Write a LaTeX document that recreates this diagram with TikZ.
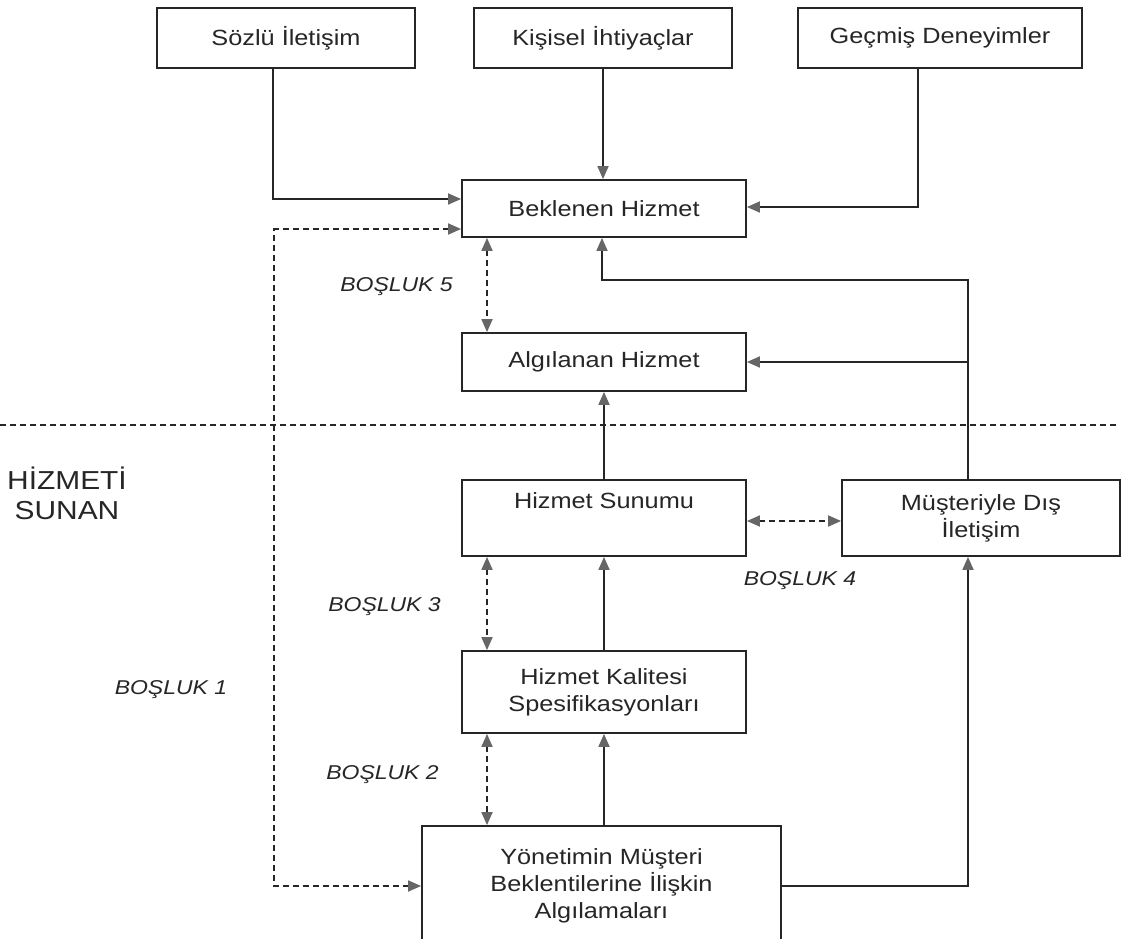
\documentclass[tikz,border=0pt]{standalone}
\usepackage{fontspec}
\setmainfont[FakeStretch=1.15]{Liberation Sans}
\usetikzlibrary{arrows.meta}

\begin{document}
\begin{tikzpicture}[x=1pt, y=-1pt, line width=1.8pt, black!85,
    box/.style={draw, inner sep=0pt, align=center, font=\fontsize{22}{27}\selectfont},
    tip/.tip={Triangle[length=13pt, width=11pt, color=black!60]},
    arr/.style={-tip},
    gap/.style={tip-tip, dash pattern=on 6pt off 4pt},
    gaplabel/.style={font=\fontsize{20}{24}\selectfont\itshape}]
  \useasboundingbox (0,0) rectangle (1122,939);
  \clip (0,0) rectangle (1122,939);
  \fill[white] (0,0) rectangle (1122,939);
  % customer side
  \node[box, minimum width=258pt, minimum height=60pt] (sozlu) at (286,38) {Sözlü İletişim};
  \node[box, minimum width=258pt, minimum height=60pt] (kisisel) at (603,38) {Kişisel İhtiyaçlar};
  \node[box, minimum width=284pt, minimum height=60pt] (gecmis) at (940,38) {Geçmiş Deneyimler};
  \node[box, minimum width=284pt, minimum height=57pt] (beklenen) at (604,208.5) {Beklenen Hizmet};
  \node[box, minimum width=284pt, minimum height=58pt] (algilanan) at (604,362) {Algılanan Hizmet};
  % provider side
  \node[box, minimum width=284pt, minimum height=76pt] (sunum) at (604,518) {Hizmet Sunumu\\ \strut};
  \node[box, minimum width=278pt, minimum height=76pt] (musteri) at (981,518) {Müşteriyle Dış\\ İletişim};
  \node[box, minimum width=284pt, minimum height=82pt] (kalite) at (604,692) {Hizmet Kalitesi\\ Spesifikasyonları};
  \node[box, minimum width=359pt, minimum height=120pt] (yonetim) at (601.5,886) {Yönetimin Müşteri\\ Beklentilerine İlişkin\\ Algılamaları};
  \coordinate (bus) at ([xshift=-13pt]musteri.north);

  \draw[dash pattern=on 6pt off 4pt] (0,425) -- (1118,425);
  \node[font=\fontsize{26}{30}\selectfont, align=center] (sunan) at (67,493) {HİZMETİ\\ SUNAN};

  \draw[arr] ([xshift=-13pt]sozlu.south) |- ([yshift=9.5pt]beklenen.west);
  \draw[arr] (kisisel.south) -- (kisisel.south |- beklenen.north);
  \draw[arr] ([xshift=-22pt]gecmis.south) |- ([yshift=1.5pt]beklenen.east);
  \draw[arr] (bus) -- ++(0,-199) -| ([xshift=-2pt]beklenen.south);
  \draw[arr] (bus |- algilanan.east) -- (algilanan.east);
  \draw[arr] (sunum.north) -- (algilanan.south);
  \draw[arr] (kalite.north) -- (sunum.south);
  \draw[arr] (kalite.south |- yonetim.north) -- (kalite.south);
  \draw[arr] (yonetim.east) -| (bus |- musteri.south);

  % gaps
  \draw[gap] ([yshift=-20.5pt]beklenen.west) -- ++(-187,0) |- (yonetim.west);
  \draw[gap] ([xshift=-117pt]beklenen.south) -- ([xshift=-117pt]algilanan.north);
  \draw[gap] ([yshift=-3pt]sunum.east) -- ([yshift=-3pt]musteri.west);
  \draw[gap] ([xshift=-117pt]sunum.south) -- ([xshift=-117pt]kalite.north);
  \draw[gap] ([xshift=-117pt]kalite.south) -- ([xshift=-117pt]kalite.south |- yonetim.north);
  \node[gaplabel] (g1) at (171,690) {BOŞLUK 1};
  \node[gaplabel, anchor=east] (g2) at (443,775) {BOŞLUK 2};
  \node[gaplabel, anchor=east] (g3) at (445,607) {BOŞLUK 3};
  \node[gaplabel] (g4) at (800,581) {BOŞLUK 4};
  \node[gaplabel, anchor=east] (g5) at (457,287) {BOŞLUK 5};
\end{tikzpicture}
\end{document}
